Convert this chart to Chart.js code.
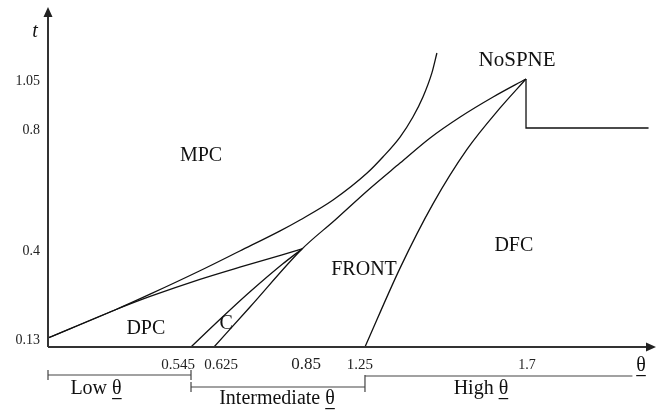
<!DOCTYPE html>
<html>
<head>
<meta charset="utf-8">
<script src="https://cdn.jsdelivr.net/npm/chart.js@4.4.1/dist/chart.umd.min.js"></script>
<style>
  html, body { margin: 0; padding: 0; background: #fff; }
  #wrap { width: 664px; height: 414px; }
</style>
</head>
<body>
<div id="wrap"><canvas id="chart" width="664" height="414"></canvas></div>
<script>
// Tick values on the two (schematic) axes
const xTicks = [0.545, 0.625, 0.85, 1.25, 1.7];
const xTickLabels = ['0.545', '0.625', '0.85', '1.25', '1.7'];
const yTicks = [0.13, 0.4, 0.8, 1.05];
const yTickLabels = ['0.13', '0.4', '0.8', '1.05'];

// MPC boundary (curve bending up towards vertical)
const mpcTheta = [0, 0.255, 0.389, 0.576, 0.691, 0.794, 0.845, 1.047, 1.256, 1.30, 1.348, 1.384, 1.412, 1.437, 1.451];
const mpcT     = [0.13, 0.215, 0.263, 0.334, 0.394, 0.46, 0.496, 0.562, 0.651, 0.704, 0.77, 0.856, 0.958, 1.08, 1.178];
// DPC upper boundary
const dpcTheta = [0, 0.255, 0.389, 0.576, 0.691, 0.85];
const dpcT     = [0.13, 0.215, 0.256, 0.308, 0.345, 0.4];
// C left boundary
const cTheta = [0.545, 0.648, 0.717, 0.801, 0.85];
const cT     = [0, 0.195, 0.27, 0.355, 0.4];
// C right boundary, continuing as the FRONT upper boundary
const frontTheta = [0.625, 0.717, 0.85, 1.06, 1.256, 1.348, 1.432, 1.516, 1.608, 1.7];
const frontT     = [0, 0.224, 0.4, 0.496, 0.592, 0.684, 0.767, 0.856, 0.958, 1.05];
// FRONT / DFC boundary
const dfcTheta = [1.25, 1.348, 1.44, 1.535, 1.627, 1.7];
const dfcT     = [0, 0.342, 0.549, 0.729, 0.901, 1.05];
// NoSPNE step
const stepTheta = [1.7, 1.7, 2.08];
const stepT     = [1.05, 0.8, 0.8];

// region names
const regionNames = ['MPC', 'DPC', 'C', 'FRONT', 'DFC', 'NoSPNE'];
const regionTheta = [0.58, 0.373, 0.656, 1.244, 1.666, 1.675];
const regionT     = [0.707, 0.157, 0.172, 0.336, 0.41, 1.139];

// theta regimes under the axis
const regimeNames = ['Low', 'Intermediate', 'High'];
const regimeFrom  = [0, 0.545, 1.25];
const regimeTo    = [0.545, 1.25, 2.03];
const regimeLabelTheta = [0.183, 0.786, 1.574];

// the axes are not to scale: piecewise linear (value, fraction of axis)
const axisKnots = {
  x: [[0, 0], [0.545, 0.2356], [0.625, 0.2735], [0.85, 0.4185], [1.25, 0.5222], [1.7, 0.7875], [2.1, 1]],
  y: [[0, 0], [0.13, 0.0265], [0.4, 0.2891], [0.8, 0.646], [1.05, 0.7906], [1.4, 1]]
};

function interp(knots, v, a, b) {
  for (let i = 1; i < knots.length; i++) {
    const p = knots[i - 1], q = knots[i];
    if (v <= q[a] || i === knots.length - 1) {
      return p[b] + (v - p[a]) * (q[b] - p[b]) / (q[a] - p[a]);
    }
  }
}

class PiecewiseScale extends Chart.LinearScale {
  getPixelForValue(value) {
    if (value === null || value === undefined) return NaN;
    return this.getPixelForDecimal(interp(axisKnots[this.id], value, 0, 1));
  }
  getValueForPixel(pixel) {
    return interp(axisKnots[this.id], this.getDecimalForPixel(pixel), 1, 0);
  }
}
PiecewiseScale.id = 'piecewise';
PiecewiseScale.defaults = Chart.LinearScale.defaults;
Chart.register(PiecewiseScale);

const zip = (xs, ys) => xs.map((x, i) => ({ x: x, y: ys[i] }));

function curve(xs, ys, smooth) {
  return {
    data: zip(xs, ys),
    showLine: true,
    borderColor: '#111',
    borderWidth: 1.3,
    pointRadius: 0,
    cubicInterpolationMode: smooth ? 'monotone' : 'default',
    tension: 0
  };
}

const SERIF = '"Liberation Serif", "DejaVu Serif", serif';

function thetaLabel(ctx, prefix, cx, cy) {
  const pre = prefix ? prefix + ' ' : '';
  const wPre = ctx.measureText(pre).width;
  const wTh = ctx.measureText('θ').width;
  const x0 = cx - (wPre + wTh) / 2;
  ctx.textAlign = 'left';
  ctx.textBaseline = 'middle';
  ctx.fillText(pre + 'θ', x0, cy);
  ctx.fillRect(x0 + wPre, cy + 9, wTh, 1.2);
}

const schemePlugin = {
  id: 'scheme',
  afterDraw(chart) {
    const ctx = chart.ctx;
    const xs = chart.scales.x, ys = chart.scales.y;
    const x0 = xs.getPixelForValue(0), y0 = ys.getPixelForValue(0);
    ctx.save();

    // axes with arrow heads
    ctx.strokeStyle = '#333';
    ctx.fillStyle = '#222';
    ctx.lineWidth = 2;
    ctx.beginPath();
    ctx.moveTo(x0, y0);
    ctx.lineTo(x0, 15);
    ctx.moveTo(x0, y0);
    ctx.lineTo(647, y0);
    ctx.stroke();
    ctx.beginPath();
    ctx.moveTo(x0, 7); ctx.lineTo(x0 - 4.5, 17); ctx.lineTo(x0 + 4.5, 17); ctx.closePath();
    ctx.moveTo(656, y0); ctx.lineTo(646, y0 - 4.5); ctx.lineTo(646, y0 + 4.5); ctx.closePath();
    ctx.fill();

    // x tick labels (nudged sideways where they crowd)
    const nudge = [-13, 7, 4, -5, 1];
    const sizes = [15, 15, 17, 15, 14];
    ctx.fillStyle = '#222';
    ctx.textAlign = 'center';
    ctx.textBaseline = 'middle';
    xTicks.forEach((v, i) => {
      ctx.font = sizes[i] + 'px ' + SERIF;
      ctx.fillText(xTickLabels[i], xs.getPixelForValue(v) + nudge[i], 365);
    });

    // axis titles
    ctx.fillStyle = '#111';
    ctx.font = 'italic 20px ' + SERIF;
    ctx.fillText('t', 35, 32);
    ctx.font = '20px ' + SERIF;
    thetaLabel(ctx, '', 641, 366);

    // region names
    ctx.textAlign = 'center';
    ctx.textBaseline = 'middle';
    regionNames.forEach((name, i) => {
      ctx.font = (name === 'NoSPNE' ? 21 : 20) + 'px ' + SERIF;
      ctx.fillText(name, xs.getPixelForValue(regionTheta[i]), ys.getPixelForValue(regionT[i]));
    });

    // regime brackets
    const rowY = [375, 387, 376];
    const labelY = [389, 399, 389];
    ctx.strokeStyle = '#444';
    ctx.lineWidth = 1.2;
    ctx.beginPath();
    regimeNames.forEach((name, i) => {
      const a = xs.getPixelForValue(regimeFrom[i]);
      const b = xs.getPixelForValue(regimeTo[i]);
      ctx.moveTo(a, rowY[i]); ctx.lineTo(b, rowY[i]);
      if (i < 2) {
        ctx.moveTo(a, rowY[i] - 5); ctx.lineTo(a, rowY[i] + 5);
        const top = i === 1 ? rowY[2] - 1 : rowY[i] - 5;
        ctx.moveTo(b, top); ctx.lineTo(b, rowY[i] + 5);
      }
    });
    ctx.stroke();
    ctx.fillStyle = '#111';
    ctx.font = '20px ' + SERIF;
    regimeNames.forEach((name, i) => {
      thetaLabel(ctx, name, xs.getPixelForValue(regimeLabelTheta[i]), labelY[i]);
    });

    ctx.restore();
  }
};

new Chart(document.getElementById('chart'), {
  type: 'scatter',
  data: {
    datasets: [
      curve(mpcTheta, mpcT, true),
      curve(dpcTheta, dpcT, true),
      curve(cTheta, cT, true),
      curve(frontTheta, frontT, true),
      curve(dfcTheta, dfcT, true),
      curve(stepTheta, stepT, false)
    ]
  },
  options: {
    responsive: false,
    animation: false,
    devicePixelRatio: 1,
    layout: { padding: { left: 0, right: 9, top: 8, bottom: 67 } },
    plugins: { legend: { display: false }, tooltip: { enabled: false } },
    scales: {
      x: {
        type: 'piecewise',
        display: false,
        min: 0,
        max: 2.1
      },
      y: {
        type: 'piecewise',
        min: 0,
        max: 1.4,
        grid: { display: false, drawTicks: false },
        border: { display: false },
        afterFit: s => { s.width = 48; s.paddingTop = 0; s.paddingBottom = 0; },
        afterBuildTicks: s => { s.ticks = yTicks.map(v => ({ value: v })); },
        ticks: {
          autoSkip: false,
          padding: 8,
          labelOffset: 2,
          color: '#222',
          font: { family: SERIF, size: 14 },
          callback: v => yTickLabels[yTicks.indexOf(v)]
        }
      }
    }
  },
  plugins: [schemePlugin]
});
</script>
</body>
</html>
